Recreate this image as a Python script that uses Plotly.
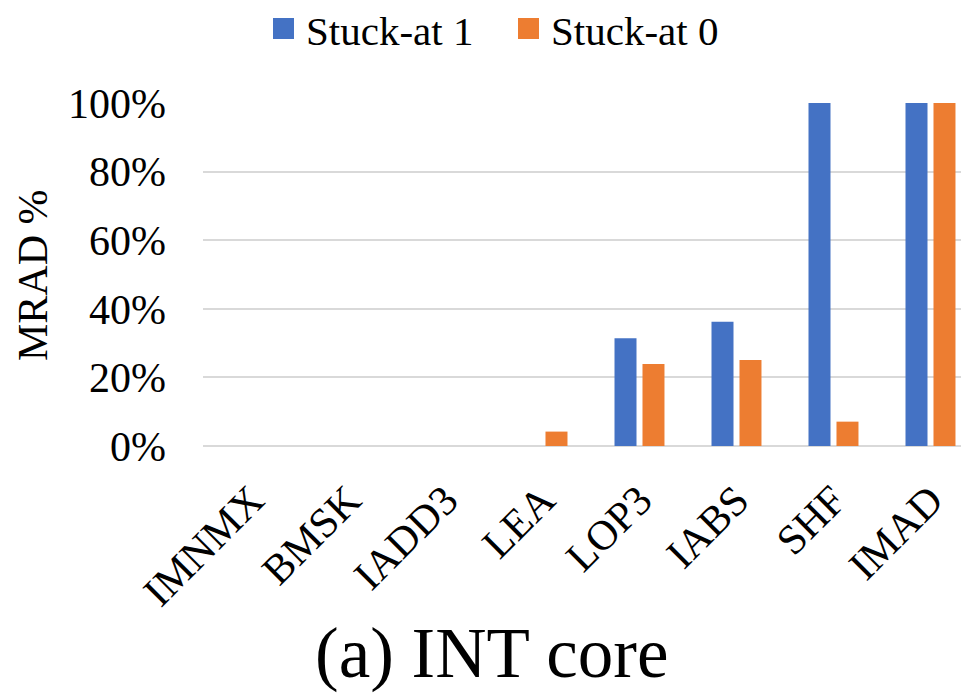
import plotly.graph_objects as go

categories = ["IMNMX", "BMSK", "IADD3", "LEA", "LOP3", "IABS", "SHF", "IMAD"]
stuck_at_1 = [0, 0, 0, 0, 31.4, 36.2, 100, 100]
stuck_at_0 = [0, 0, 0, 4.2, 23.9, 25.1, 7.1, 100]
series_names = ["Stuck-at 1", "Stuck-at 0"]
series_colors = ["#4472C4", "#ED7D31"]
y_ticks = [0, 20, 40, 60, 80, 100]
y_tick_labels = ["0%", "20%", "40%", "60%", "80%", "100%"]

OFF = 8  # page body margin
W, H = 969 - OFF, 693 - OFF
L, R, T, B = 203 - OFF, 0, 103 - OFF, 693 - 446
FONT = "Liberation Serif"
FS = 42

fig = go.Figure()
for name, vals, col in zip(series_names, [stuck_at_1, stuck_at_0], series_colors):
    fig.add_trace(go.Bar(x=categories, y=vals, name=name, marker=dict(color=col, line=dict(width=0)),
                         showlegend=False))

pw = W - L - R
ph = H - T - B
def px2x(px):  # screen px -> paper
    return (px - OFF - L) / pw
def py2y(py):
    return (H - B - (py - OFF)) / ph

shapes = []
annotations = []
leg_sq = [(273, 294), (518, 539)]
leg_txt = [304, 549]
for (x0, x1), tx, name, col in zip(leg_sq, leg_txt, series_names, series_colors):
    shapes.append(dict(type="rect", xref="paper", yref="paper",
                       x0=px2x(x0), x1=px2x(x1), y0=py2y(39), y1=py2y(18),
                       fillcolor=col, line=dict(width=0)))
    annotations.append(dict(text=name, xref="paper", yref="paper", x=px2x(tx), y=py2y(31),
                            xanchor="left", yanchor="middle", showarrow=False,
                            font=dict(family=FONT, size=41, color="black")))

annotations.append(dict(text="MRAD %", xref="paper", yref="paper", x=px2x(33), y=py2y(275),
                        xanchor="center", yanchor="middle", textangle=-90, showarrow=False,
                        font=dict(family=FONT, size=FS, color="black")))
annotations.append(dict(text="(a) INT core", xref="paper", yref="paper", x=px2x(491), y=py2y(653),
                        xanchor="center", yanchor="middle", showarrow=False,
                        font=dict(family=FONT, size=71, color="black")))

fig.update_layout(
    width=W, height=H,
    margin=dict(l=L, r=R, t=T, b=B, pad=0),
    paper_bgcolor="white", plot_bgcolor="white",
    barmode="group", bargap=0.423, bargroupgap=0.214,
    font=dict(family=FONT, size=FS, color="black"),
    shapes=shapes, annotations=annotations,
    showlegend=False,
)
fig.update_xaxes(range=[-0.5, 7.397], showgrid=False, showline=False, zeroline=False,
                 tickangle=-45, tickfont=dict(family=FONT, size=FS, color="black"),
                 ticks="", ticklabelstandoff=20)
fig.update_yaxes(range=[0, 100], tickvals=y_ticks, ticktext=y_tick_labels,
                 showgrid=True, gridcolor="#d9d9d9", gridwidth=1.5,
                 zeroline=True, zerolinecolor="#d9d9d9", zerolinewidth=1.5,
                 showline=False, ticks="", ticklabelstandoff=36,
                 tickfont=dict(family=FONT, size=FS, color="black"))

fig.write_html("out.html")
